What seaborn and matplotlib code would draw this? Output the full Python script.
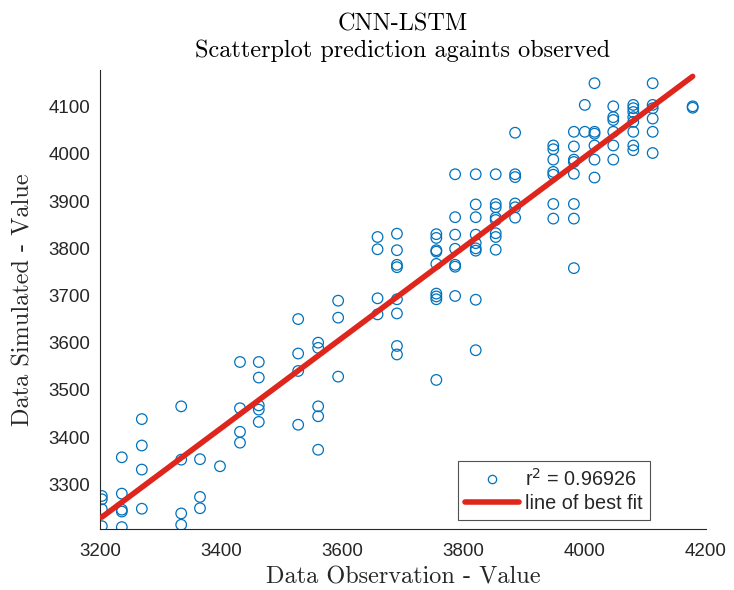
import numpy as np
import pandas as pd
import matplotlib
matplotlib.use("Agg")
import matplotlib.pyplot as plt
from matplotlib.lines import Line2D
import seaborn as sns

# ---- data ----
obs_levels = [3203, 3236, 3269, 3334, 3365, 3398, 3431, 3462, 3527, 3560,
              3593, 3658, 3690, 3755, 3786, 3820, 3853, 3885, 3948, 3982,
              4000, 4016, 4047, 4080, 4112, 4178]
sim_groups = [
    [3275, 3268, 3247, 3211],
    [3357, 3280, 3246, 3242, 3209],
    [3438, 3382, 3331, 3248],
    [3465, 3352, 3238, 3214],
    [3353, 3273, 3249],
    [3338],
    [3559, 3461, 3411, 3388],
    [3559, 3526, 3467, 3458, 3432],
    [3650, 3577, 3540, 3426],
    [3600, 3589, 3465, 3444, 3373],
    [3689, 3653, 3528],
    [3824, 3798, 3694, 3660],
    [3831, 3796, 3765, 3760, 3692, 3662, 3593, 3575],
    [3830, 3822, 3796, 3793, 3767, 3704, 3698, 3692, 3521],
    [3957, 3866, 3829, 3799, 3765, 3761, 3699],
    [3957, 3893, 3866, 3829, 3811, 3800, 3795, 3691, 3584],
    [3957, 3894, 3887, 3865, 3860, 3832, 3824, 3797],
    [4045, 3957, 3951, 3895, 3887, 3865],
    [4018, 4010, 3988, 3962, 3956, 3894, 3863],
    [4047, 4016, 3988, 3983, 3958, 3894, 3863, 3758],
    [4104, 4047],
    [4150, 4047, 4043, 4018, 3988, 3950],
    [4101, 4078, 4072, 4047, 4018, 3988],
    [4104, 4097, 4089, 4078, 4068, 4047, 4018, 4008],
    [4150, 4104, 4097, 4075, 4047, 4002],
    [4101, 4098],
]
r2_label = "r$^2$ = 0.96926"
fit_label = "line of best fit"
title_text = "CNN-LSTM\nScatterplot prediction againts observed"
x_label = "Data Observation - Value"
y_label = "Data Simulated - Value"
x_ticks = [3200, 3400, 3600, 3800, 4000, 4200]
y_ticks = [3300, 3400, 3500, 3600, 3700, 3800, 3900, 4000, 4100]

observed = [x for x, g in zip(obs_levels, sim_groups) for _ in g]
simulated = [y for g in sim_groups for y in g]
df = pd.DataFrame({"observed": observed, "simulated": simulated})

# ---- style ----
sns.set_theme(style="white")
plt.rcParams["font.family"] = ["Liberation Sans", "DejaVu Sans"]

blue = "#0072BD"
red = "#DF261D"
dark = "#262626"
serif = ["cmr10", "DejaVu Serif"]

fig = plt.figure(figsize=(7.34, 5.90), dpi=100)
ax = fig.add_axes([100 / 734, 61 / 590, 606 / 734, 459 / 590])

sns.scatterplot(data=df, x="observed", y="simulated", ax=ax, marker="o",
                facecolor="none", edgecolor=blue, linewidth=0.9, s=58,
                legend=False, zorder=2)

# line of best fit computed from the data
slope, intercept = np.polyfit(df["observed"], df["simulated"], 1)
xs = np.array([df["observed"].min(), df["observed"].max()])
sns.lineplot(x=xs, y=slope * xs + intercept, ax=ax, color=red,
             linewidth=4.0, zorder=3, legend=False)

ax.set_xlim(3200, 4200)
ax.set_ylim(3205, 4178)
ax.set_xticks(x_ticks)
ax.set_yticks(y_ticks)
ax.tick_params(direction="in", length=4, width=0.8, colors=dark,
               labelsize=13.5)
ax.tick_params(axis="x", pad=10)
ax.tick_params(axis="y", pad=7)
for side in ["top", "right"]:
    ax.spines[side].set_visible(False)
for side in ["left", "bottom"]:
    ax.spines[side].set_color(dark)
    ax.spines[side].set_linewidth(0.8)

ax.set_xlabel(x_label, fontfamily=serif, fontsize=17.5, color=dark, labelpad=5)
ax.set_ylabel(y_label, fontfamily=serif, fontsize=17.5, color=dark, labelpad=10)
ax.set_title(title_text, fontfamily=serif, fontsize=17.5, color="black",
             pad=9, linespacing=1.25)

handles = [
    Line2D([], [], marker="o", linestyle="none", markerfacecolor="none",
           markeredgecolor=blue, markersize=6, markeredgewidth=0.9),
    Line2D([], [], color=red, linewidth=4.0),
]
leg = ax.legend(handles, [r2_label, fit_label], loc="lower right",
                bbox_to_anchor=(0.9076, 0.0196), borderaxespad=0,
                fontsize=14.3, frameon=True, fancybox=False,
                handlelength=2.75, handletextpad=0.3, borderpad=0.35,
                labelspacing=0.2)
leg.get_frame().set_edgecolor(dark)
leg.get_frame().set_linewidth(0.8)

fig.savefig("out.png", dpi=100)
